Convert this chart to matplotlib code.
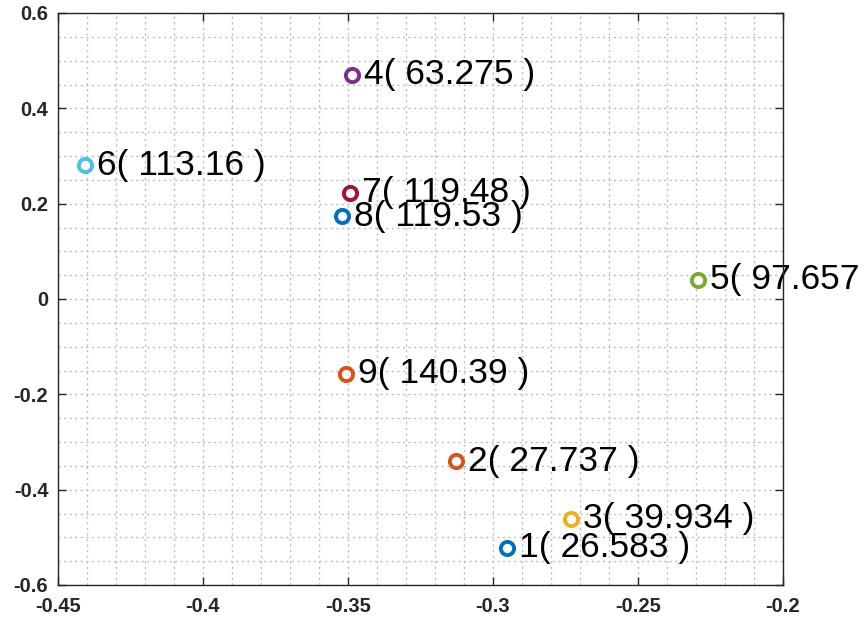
import matplotlib
matplotlib.use("Agg")
import matplotlib.pyplot as plt
from matplotlib.ticker import MultipleLocator, FixedLocator

plt.rcParams['font.family'] = ['Liberation Sans', 'DejaVu Sans']

# point data: index, x, y, value label, colour
ids = [1, 2, 3, 4, 5, 6, 7, 8, 9]
xs = [-0.2952, -0.3128, -0.2731, -0.3486, -0.2293, -0.4407, -0.3493, -0.3521, -0.3507]
ys = [-0.5223, -0.340, -0.4615, 0.470, 0.040, 0.281, 0.2224, 0.174, -0.157]
vals = ["26.583", "27.737", "39.934", "63.275", "97.657", "113.16", "119.48", "119.53", "140.39"]
colors = ["#0072BD", "#D95319", "#EDB120", "#7E2F8E", "#77AC30",
          "#4DBEEE", "#A2142F", "#0072BD", "#D95319"]

x_ticks = [-0.45, -0.4, -0.35, -0.3, -0.25, -0.2]
x_ticklabels = ["-0.45", "-0.4", "-0.35", "-0.3", "-0.25", "-0.2"]
y_ticks = [-0.6, -0.4, -0.2, 0, 0.2, 0.4, 0.6]
y_ticklabels = ["-0.6", "-0.4", "-0.2", "0", "0.2", "0.4", "0.6"]

fig = plt.figure(figsize=(8.64, 6.23), dpi=100)
ax = fig.add_axes([58 / 864, 38 / 623, 725 / 864, 572 / 623])

for i, x, y, v, c in zip(ids, xs, ys, vals, colors):
    ax.plot(x, y, 'o', markersize=9.5, markerfacecolor='white',
            markeredgecolor=c, markeredgewidth=2.8, zorder=4)
    # labels sit under the axes box, as in the original (5 runs off the edge)
    ax.annotate(f"{i}( {v} )", (x, y), xytext=(8.5, 0), textcoords='offset points',
                va='center', ha='left', fontsize=25.5, color='black',
                zorder=2, annotation_clip=False)

ax.set_xlim(-0.45, -0.2)
ax.set_ylim(-0.6, 0.6)
ax.xaxis.set_major_locator(FixedLocator(x_ticks))
ax.set_xticklabels(x_ticklabels)
ax.yaxis.set_major_locator(FixedLocator(y_ticks))
ax.set_yticklabels(y_ticklabels)
ax.xaxis.set_minor_locator(MultipleLocator(0.01))
ax.yaxis.set_minor_locator(MultipleLocator(0.05))

ax.grid(True, which='both', linestyle=(0, (1.5, 2.5)), color='#bdbdbd', linewidth=1.0)
ax.set_axisbelow(True)

ax.tick_params(which='major', direction='in', length=6, width=1, colors='#262626',
               labelsize=14.5, top=True, right=True, pad=7)
ax.tick_params(axis='x', which='major', pad=9)
ax.tick_params(which='minor', length=0)
for lab in ax.get_xticklabels() + ax.get_yticklabels():
    lab.set_fontweight('bold')
for s in ax.spines.values():
    s.set_color('#262626')
    s.set_linewidth(1.0)
    s.set_zorder(3)

fig.savefig("out.png", dpi=100)
